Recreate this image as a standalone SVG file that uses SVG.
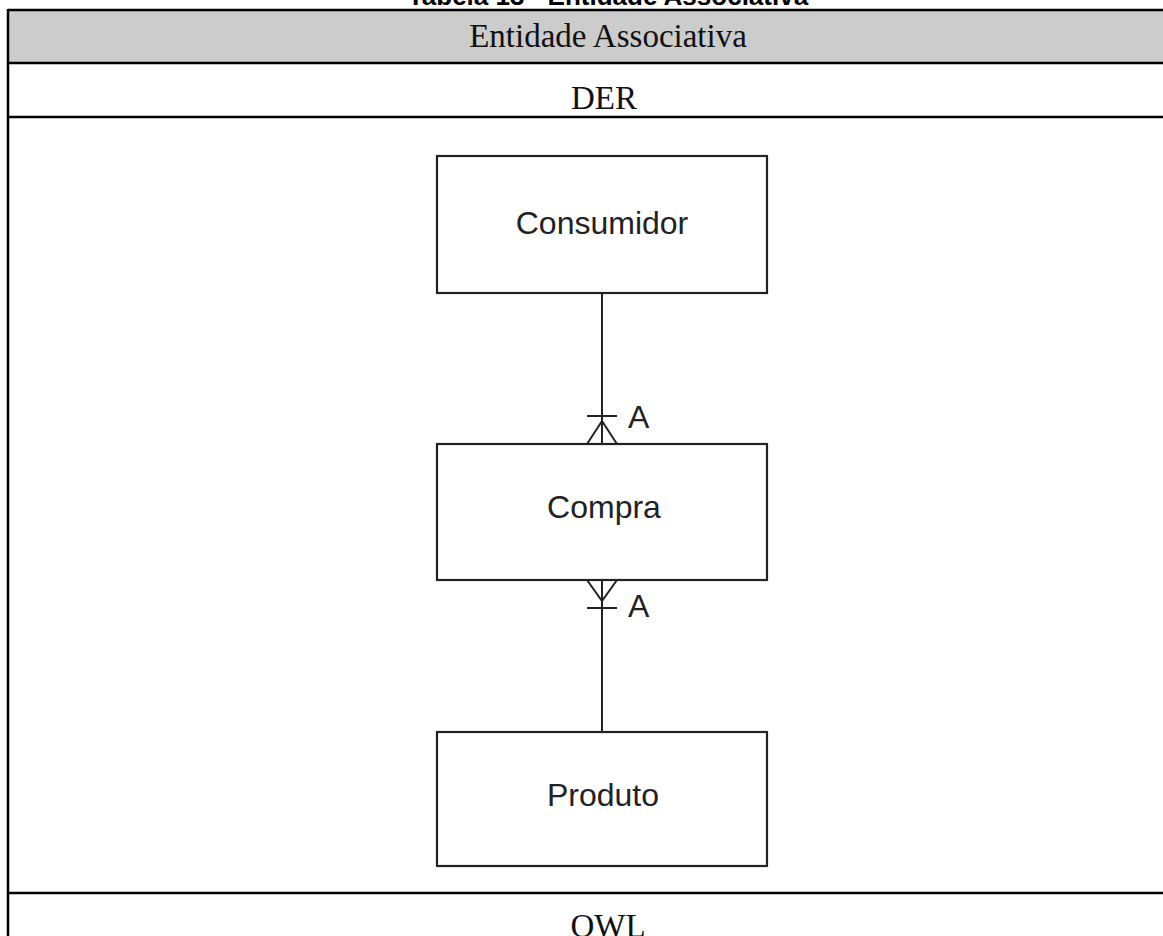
<svg xmlns="http://www.w3.org/2000/svg" width="1163" height="936" viewBox="0 0 1163 936">
  <style>
    .grid { stroke: #000; stroke-width: 2.5; fill: none; }
    .caption { font-family: "Liberation Sans", Arial, sans-serif; font-weight: bold; font-size: 26px; fill: #000; }
    .cell { font-family: "Liberation Serif", "Times New Roman", serif; font-size: 33px; fill: #111; }
    .entity rect { fill: #fff; stroke: #222; stroke-width: 2.2; }
    .entity text, .card { font-family: "Liberation Sans", Arial, sans-serif; font-size: 32px; fill: #222; }
    .link { stroke: #222; stroke-width: 2; fill: none; }
  </style>
  <rect width="1163" height="936" fill="#fff"/>

  <!-- caption, cut by the top edge -->
  <text class="caption" x="608" y="5" text-anchor="middle">Tabela 13 - Entidade Associativa</text>

  <!-- table frame -->
  <g id="table">
    <rect x="8" y="10" width="1200" height="53" fill="#cccccc"/>
    <line class="grid" x1="8" y1="10" x2="1163" y2="10"/>
    <line class="grid" x1="8" y1="63" x2="1163" y2="63"/>
    <line class="grid" x1="8" y1="117" x2="1163" y2="117"/>
    <line class="grid" x1="8" y1="893" x2="1163" y2="893"/>
    <line class="grid" x1="8" y1="9" x2="8" y2="936"/>
    <text class="cell" x="608" y="47" text-anchor="middle">Entidade Associativa</text>
    <text class="cell" x="604" y="109" text-anchor="middle">DER</text>
    <text class="cell" x="608" y="937" text-anchor="middle">OWL</text>
  </g>

  <!-- relationships with crow's-foot ends -->
  <g id="connectors">
    <line class="link" x1="602" y1="293" x2="602" y2="444"/>
    <line class="link" x1="587" y1="416" x2="617" y2="416"/>
    <polyline class="link" points="587,444 602,421 617,444"/>
    <text class="card" x="628" y="428">A</text>

    <line class="link" x1="602" y1="580" x2="602" y2="732"/>
    <line class="link" x1="587" y1="608" x2="617" y2="608"/>
    <polyline class="link" points="587,580 602,601 617,580"/>
    <text class="card" x="628" y="617">A</text>
  </g>

  <g id="consumidor" class="entity">
    <rect x="437" y="156" width="330" height="137"/>
    <text x="602" y="234" text-anchor="middle">Consumidor</text>
  </g>
  <g id="compra" class="entity">
    <rect x="437" y="444" width="330" height="136"/>
    <text x="604" y="518" text-anchor="middle">Compra</text>
  </g>
  <g id="produto" class="entity">
    <rect x="437" y="732" width="330" height="134"/>
    <text x="603" y="806" text-anchor="middle">Produto</text>
  </g>
</svg>
